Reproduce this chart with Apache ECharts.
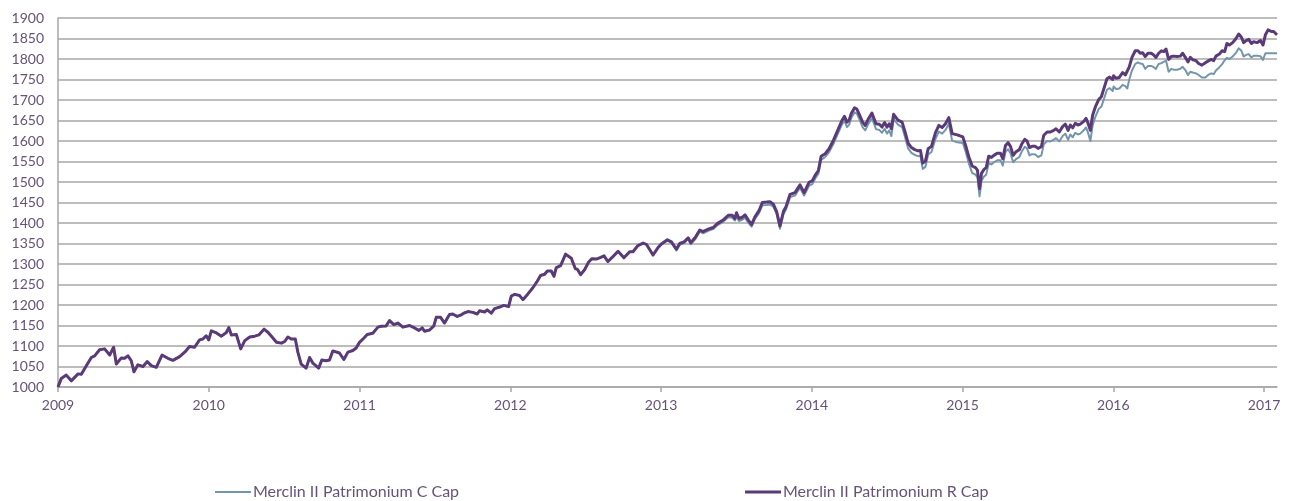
<!DOCTYPE html>
<html>
<head>
<meta charset="utf-8">
<script src="https://cdn.jsdelivr.net/npm/echarts@6/dist/echarts.min.js"></script>
<style>
  html, body { margin: 0; padding: 0; background: #fff; }
  #chart { width: 1290px; height: 501px; }
</style>
</head>
<body>
<div id="chart"></div>
<script>
// x positions in decimal years
var years = [
  // 2009
  2009.000, 2009.022, 2009.055, 2009.088, 2009.133, 2009.155, 2009.188, 2009.221, 2009.243, 2009.276,
  2009.309, 2009.343, 2009.369, 2009.387, 2009.420, 2009.442, 2009.464, 2009.486, 2009.504, 2009.530,
  2009.564, 2009.592, 2009.619, 2009.652, 2009.690, 2009.729, 2009.762, 2009.807, 2009.844, 2009.873,
  2009.906, 2009.939, 2009.961, 2009.983,
  // 2010
  2010.000, 2010.017, 2010.051, 2010.084, 2010.117, 2010.133, 2010.150, 2010.183, 2010.212, 2010.239,
  2010.272, 2010.305, 2010.332, 2010.345, 2010.367, 2010.394, 2010.427, 2010.449, 2010.482, 2010.504,
  2010.525, 2010.547, 2010.574, 2010.591, 2010.613, 2010.646, 2010.669, 2010.691, 2010.729, 2010.750,
  2010.779, 2010.801, 2010.823, 2010.867, 2010.896, 2010.923, 2010.956, 2010.978,
  // 2011
  2011.000, 2011.028, 2011.051, 2011.088, 2011.122, 2011.144, 2011.177, 2011.199, 2011.228, 2011.254,
  2011.288, 2011.332, 2011.365, 2011.394, 2011.416, 2011.431, 2011.465, 2011.493, 2011.509, 2011.538,
  2011.546, 2011.564, 2011.597, 2011.619, 2011.648, 2011.675, 2011.692, 2011.719, 2011.752, 2011.781,
  2011.796, 2011.830, 2011.847, 2011.874, 2011.896, 2011.929, 2011.958, 2011.989,
  // 2012
  2012.007, 2012.029, 2012.062, 2012.084, 2012.117, 2012.150, 2012.179, 2012.201, 2012.228, 2012.246,
  2012.272, 2012.290, 2012.305, 2012.334, 2012.367, 2012.405, 2012.431, 2012.445, 2012.467, 2012.493,
  2012.520, 2012.542, 2012.571, 2012.600, 2012.622, 2012.648, 2012.681, 2012.715, 2012.754, 2012.792,
  2012.814, 2012.847, 2012.881, 2012.903, 2012.947, 2012.980,
  // 2013
  2013.002, 2013.042, 2013.069, 2013.102, 2013.124, 2013.153, 2013.180, 2013.197, 2013.228, 2013.257,
  2013.279, 2013.313, 2013.346, 2013.375, 2013.412, 2013.446, 2013.472, 2013.490, 2013.501, 2013.517,
  2013.539, 2013.557, 2013.579, 2013.601, 2013.623, 2013.650, 2013.672, 2013.701, 2013.723, 2013.745,
  2013.767, 2013.789, 2013.812, 2013.829, 2013.856, 2013.889, 2013.922, 2013.949, 2013.982,
  // 2014
  2014.004, 2014.022, 2014.044, 2014.062, 2014.089, 2014.115, 2014.144, 2014.177, 2014.200, 2014.217,
  2014.233, 2014.248, 2014.262, 2014.284, 2014.299, 2014.315, 2014.337, 2014.355, 2014.377, 2014.399,
  2014.410, 2014.426, 2014.448, 2014.466, 2014.483, 2014.499, 2014.514, 2014.528, 2014.543, 2014.572,
  2014.599, 2014.616, 2014.639, 2014.661, 2014.683, 2014.705, 2014.721, 2014.736, 2014.754, 2014.772,
  2014.794, 2014.820, 2014.843, 2014.865, 2014.887, 2014.909, 2014.931, 2014.965,
  // 2015
  2015.002, 2015.020, 2015.042, 2015.064, 2015.086, 2015.099, 2015.113, 2015.126, 2015.141, 2015.157,
  2015.174, 2015.192, 2015.208, 2015.230, 2015.252, 2015.267, 2015.285, 2015.302, 2015.318, 2015.336,
  2015.355, 2015.377, 2015.395, 2015.413, 2015.428, 2015.444, 2015.461, 2015.483, 2015.501, 2015.523,
  2015.539, 2015.561, 2015.583, 2015.605, 2015.620, 2015.642, 2015.664, 2015.682, 2015.700, 2015.715,
  2015.731, 2015.748, 2015.766, 2015.781, 2015.804, 2015.819, 2015.832, 2015.848, 2015.863, 2015.881,
  2015.903, 2015.921, 2015.936, 2015.958, 2015.976, 2015.996,
  // 2016 - 2017
  2016.002, 2016.018, 2016.040, 2016.062, 2016.080, 2016.093, 2016.106, 2016.124, 2016.146, 2016.164,
  2016.179, 2016.195, 2016.212, 2016.230, 2016.252, 2016.268, 2016.283, 2016.301, 2016.319, 2016.334,
  2016.350, 2016.367, 2016.385, 2016.400, 2016.423, 2016.445, 2016.460, 2016.478, 2016.496, 2016.511,
  2016.527, 2016.549, 2016.566, 2016.588, 2016.611, 2016.633, 2016.650, 2016.666, 2016.681, 2016.704,
  2016.721, 2016.739, 2016.754, 2016.770, 2016.792, 2016.814, 2016.832, 2016.850, 2016.865, 2016.881,
  2016.898, 2016.916, 2016.931, 2016.954, 2016.976, 2016.993, 2017.009, 2017.027, 2017.049, 2017.064,
  2017.080, 2017.086
];

// Merclin II Patrimonium R Cap
var rCap = [
  1000,1021,1029,1015,1032,1031,1052,1072,1076,1091, 1093,1078,1097,1056,1071,1070,1076,1064,1037,1054,
  1050,1062,1052,1048,1078,1070,1065,1074,1086,1099, 1097,1115,1117,1125,
  1115,1137,1132,1124,1133,1145,1127,1128,1093,1113, 1122,1124,1127,1124,1141,1133,1119,1109,1107,1111,
  1122,1117,1117,1085,1056,1046,1072,1058,1046,1066, 1064,1066,1088,1083,1067,1085,1089,1095,
  1109,1119,1128,1131,1146,1148,1149,1162,1152,1156, 1146,1150,1144,1138,1144,1136,1139,1149,1170,1170,
  1174,1156,1177,1178,1172,1176,1180,1184,1182,1178, 1186,1183,1188,1180,1191,1195,1199,1196,
  1222,1226,1223,1213,1227,1242,1258,1272,1275,1283, 1283,1270,1291,1296,1324,1314,1289,1287,1274,1286,
  1305,1313,1312,1316,1320,1306,1318,1331,1315,1330, 1330,1345,1351,1348,1322,1340,
  1349,1359,1354,1336,1350,1354,1364,1352,1365,1383, 1379,1385,1389,1399,1407,1419,1419,1411,1425,1411,
  1414,1420,1407,1396,1415,1430,1450,1451,1452,1446, 1428,1393,1428,1440,1470,1474,1493,1474,1499,
  1503,1516,1528,1563,1569,1581,1602,1630,1650,1660, 1646,1651,1667,1681,1678,1665,1646,1638,1655,1668,
  1671,1642,1641,1634,1645,1634,1642,1630,1665,1651, 1646,1626,1595,1584,1579,1576,1577,1546,1551,1581,
  1587,1620,1638,1633,1642,1657,1618,1615,
  1610,1590,1561,1539,1535,1529,1484,1521,1530,1535, 1563,1560,1565,1570,1570,1557,1589,1596,1587,1565,
  1574,1579,1594,1604,1600,1584,1587,1587,1582,1586, 1614,1622,1622,1626,1630,1622,1635,1641,1626,1639,
  1632,1643,1639,1641,1648,1655,1644,1626,1663,1683, 1701,1708,1726,1752,1756,1750,
  1759,1753,1755,1767,1761,1759,1781,1804,1820,1820, 1814,1815,1806,1814,1814,1810,1804,1814,1820,1818,
  1824,1799,1806,1807,1806,1807,1814,1804,1793,1804, 1798,1796,1789,1785,1791,1796,1799,1796,1807,1812,
  1820,1818,1838,1834,1840,1850,1861,1853,1840,1845, 1848,1838,1842,1840,1845,1834,1859,1871,1867,1867,
  1861,1859
];

// Merclin II Patrimonium C Cap
var cCap = [
  1000,1021,1029,1015,1032,1031,1052,1072,1076,1091, 1093,1078,1097,1056,1071,1070,1076,1064,1037,1054,
  1050,1062,1052,1048,1078,1070,1065,1074,1086,1099, 1097,1115,1117,1125,
  1115,1137,1132,1124,1133,1145,1127,1128,1093,1113, 1122,1124,1127,1124,1141,1133,1119,1109,1107,1111,
  1122,1117,1117,1085,1056,1046,1072,1058,1046,1066, 1064,1066,1088,1083,1067,1085,1089,1095,
  1109,1119,1128,1131,1146,1148,1149,1162,1152,1156, 1146,1150,1144,1138,1144,1136,1139,1149,1170,1170,
  1174,1156,1177,1178,1172,1176,1180,1184,1182,1178, 1186,1183,1188,1180,1191,1195,1199,1196,
  1222,1226,1223,1213,1227,1242,1258,1272,1275,1283, 1283,1270,1291,1296,1324,1314,1289,1287,1274,1286,
  1305,1313,1312,1316,1320,1306,1318,1331,1315,1330, 1330,1345,1351,1348,1321,1339,
  1347,1357,1352,1333,1347,1351,1361,1348,1361,1379, 1375,1381,1385,1395,1403,1414,1413,1406,1416,1405,
  1408,1413,1401,1391,1410,1424,1443,1444,1445,1440, 1422,1386,1421,1433,1463,1467,1486,1467,1491,
  1495,1508,1520,1554,1561,1573,1593,1621,1640,1650, 1634,1640,1656,1670,1667,1654,1634,1626,1643,1656,
  1659,1629,1627,1620,1630,1618,1626,1612,1654,1640, 1634,1613,1582,1571,1566,1563,1564,1532,1537,1567,
  1573,1605,1623,1618,1627,1642,1601,1597,
  1595,1575,1545,1522,1518,1511,1465,1503,1513,1518, 1546,1543,1548,1553,1553,1540,1573,1580,1570,1548,
  1556,1561,1576,1586,1582,1565,1568,1567,1561,1565, 1592,1600,1599,1603,1607,1599,1612,1618,1603,1616,
  1609,1620,1616,1618,1626,1633,1621,1600,1638,1659, 1678,1684,1700,1725,1729,1722,
  1733,1727,1728,1737,1734,1728,1750,1772,1788,1792, 1789,1788,1776,1783,1783,1780,1776,1788,1790,1793,
  1796,1769,1776,1774,1774,1776,1781,1773,1761,1769, 1767,1765,1761,1755,1755,1762,1765,1763,1772,1780,
  1787,1797,1803,1800,1806,1815,1826,1820,1806,1810, 1812,1804,1808,1808,1807,1798,1814,1814,1814,1814,
  1814,1814
];

var yearTicks = [2009, 2010, 2011, 2012, 2013, 2014, 2015, 2016, 2017];
var seriesNames = ['Merclin II Patrimonium C Cap', 'Merclin II Patrimonium R Cap'];
var seriesColors = ['#7396aa', '#5b3a78'];

var textColor = '#65537a';
var gridColor = '#a7a7a7';

function pairs(xs, ys) {
  var out = [];
  var n = Math.min(xs.length, ys.length);
  for (var i = 0; i < n; i++) {
    out.push([xs[i], ys[i]]);
  }
  return out;
}

var chart = echarts.init(document.getElementById('chart'), null, { renderer: 'canvas' });

// one legend per series so each can sit where the original has it
function legendAt(name, left, lineH) {
  return {
    data: [name],
    left: left, top: 479,
    icon: 'rect',
    itemWidth: 36, itemHeight: lineH,
    textStyle: { color: textColor, fontSize: 16, padding: [0, 0, 0, -3] }
  };
}

var option = {
  animation: false,
  backgroundColor: '#ffffff',
  textStyle: { fontFamily: 'Lato, "Open Sans", sans-serif' },
  grid: { left: 58, right: 13, top: 18, bottom: 114, containLabel: false },
  legend: [
    legendAt(seriesNames[0], 210, 2),
    legendAt(seriesNames[1], 740, 3)
  ],
  xAxis: {
    type: 'value',
    min: 2009,
    max: 2017.086,
    interval: 1,
    axisLine: { show: true, lineStyle: { color: gridColor, width: 1.5 } },
    axisTick: {
      show: true, length: 5, customValues: yearTicks,
      lineStyle: { color: gridColor, width: 1.5 }
    },
    axisLabel: {
      color: textColor, fontSize: 14, margin: 11,
      customValues: yearTicks,
      formatter: function (v) {
        return Math.abs(v - Math.round(v)) < 1e-6 ? String(Math.round(v)) : '';
      }
    },
    splitLine: { show: false }
  },
  yAxis: {
    type: 'value',
    min: 1000,
    max: 1900,
    interval: 50,
    axisLine: { show: true, lineStyle: { color: gridColor, width: 1.5 } },
    axisTick: { show: false },
    axisLabel: {
      color: textColor, fontSize: 14, margin: 14,
      formatter: function (v) { return String(v); }
    },
    splitLine: { show: true, lineStyle: { color: gridColor, width: 1.5 } }
  },
  series: [
    {
      name: seriesNames[0],
      type: 'line',
      data: pairs(years, cCap),
      symbol: 'none',
      color: seriesColors[0],
      lineStyle: { color: seriesColors[0], width: 2, join: 'round' }
    },
    {
      name: seriesNames[1],
      type: 'line',
      data: pairs(years, rCap),
      symbol: 'none',
      color: seriesColors[1],
      lineStyle: { color: seriesColors[1], width: 3, join: 'round' }
    }
  ]
};

chart.setOption(option);
</script>
</body>
</html>
